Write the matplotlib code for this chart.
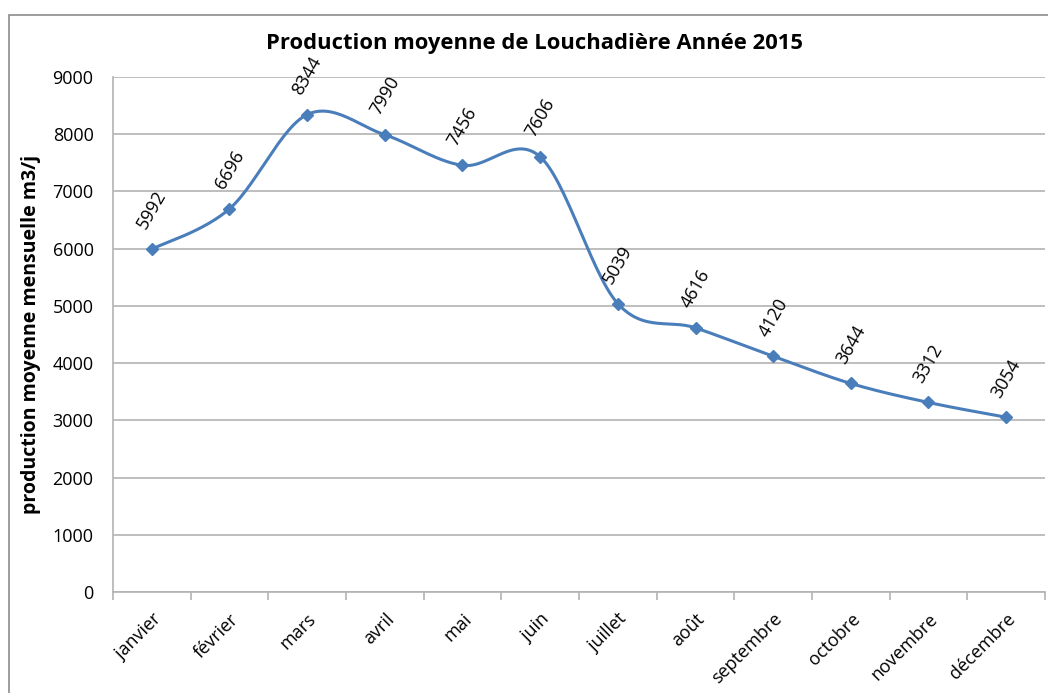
import numpy as np
import matplotlib.pyplot as plt
from matplotlib.patches import Rectangle

plt.rcParams['font.family'] = ['Open Sans', 'DejaVu Sans']

# data
months = ["janvier", "février", "mars", "avril", "mai", "juin", "juillet",
          "août", "septembre", "octobre", "novembre", "décembre"]
production = [5992, 6696, 8344, 7990, 7456, 7606, 5039, 4616, 4120, 3644, 3312, 3054]
yticks = [0, 1000, 2000, 3000, 4000, 5000, 6000, 7000, 8000, 9000]

line_color = "#4a7ebb"
grid_color = "#b3b3b3"


def smooth_curve(x, y, n=30):
    # Excel-like smoothed line: cubic Bezier segments with Catmull-Rom control points
    x = np.asarray(x, float)
    y = np.asarray(y, float)
    px = np.concatenate([[x[0]], x, [x[-1]]])
    py = np.concatenate([[y[0]], y, [y[-1]]])
    xs, ys = [], []
    t = np.linspace(0, 1, n)
    for i in range(1, len(px) - 2):
        p0 = np.array([px[i], py[i]])
        p3 = np.array([px[i + 1], py[i + 1]])
        c1 = p0 + (np.array([px[i + 1], py[i + 1]]) - np.array([px[i - 1], py[i - 1]])) / 6
        c2 = p3 - (np.array([px[i + 2], py[i + 2]]) - np.array([px[i], py[i]])) / 6
        b = ((1 - t) ** 3)[:, None] * p0 + (3 * (1 - t) ** 2 * t)[:, None] * c1 \
            + (3 * (1 - t) * t ** 2)[:, None] * c2 + (t ** 3)[:, None] * p3
        xs.extend(b[:, 0])
        ys.extend(b[:, 1])
    return xs, ys


fig = plt.figure(figsize=(10.48, 6.93), dpi=100)
fig.patches.append(Rectangle((9 / 1048, -0.05), 1.2, 1 - 15 / 693 + 0.05,
                             transform=fig.transFigure, fill=False,
                             edgecolor="#8c8c8c", lw=1.2))

ax = fig.add_axes([113 / 1048, 1 - 592 / 693, 932 / 1048, 515 / 693])

x = np.arange(len(months))
sx, sy = smooth_curve(x, production)
ax.plot(sx, sy, color=line_color, lw=2.2, zorder=3)
ax.plot(x, production, linestyle="none", marker="D", markersize=6,
        color=line_color, zorder=4)

for xi, v in zip(x, production):
    ax.annotate(str(v), (xi, v), xytext=(0, 12), textcoords="offset points",
                ha="center", va="bottom", rotation=60, fontsize=13,
                annotation_clip=False)

ax.set_xlim(-0.5, len(months) - 0.5)
ax.set_ylim(0, 9000)
ax.set_yticks(yticks)
ax.set_yticklabels([str(v) for v in yticks], fontsize=13)
ax.yaxis.grid(True, color=grid_color, lw=1.2)
ax.set_axisbelow(True)
ax.tick_params(axis="y", length=0, pad=14)

ax.set_xticks(x)
ax.set_xticklabels(months, rotation=45, ha="right", rotation_mode="anchor",
                   fontsize=13)
ax.set_xticks(np.arange(len(months) + 1) - 0.5, minor=True)
ax.tick_params(axis="x", which="major", length=0, pad=13)
ax.tick_params(axis="x", which="minor", length=6, color=grid_color, width=1.2)

for side in ["top", "right"]:
    ax.spines[side].set_visible(False)
ax.spines["left"].set_color(grid_color)
ax.spines["bottom"].set_color(grid_color)
ax.spines["left"].set_linewidth(1.2)
ax.spines["bottom"].set_linewidth(1.2)

ax.set_ylabel("production moyenne mensuelle m3/j", fontsize=14,
              fontweight="bold", labelpad=8)
fig.text(535 / 1048, 1 - 44 / 693, "Production moyenne de Louchadière Année 2015",
         ha="center", va="center", fontsize=15.8, fontweight="bold")

fig.savefig("out.png", dpi=100)
